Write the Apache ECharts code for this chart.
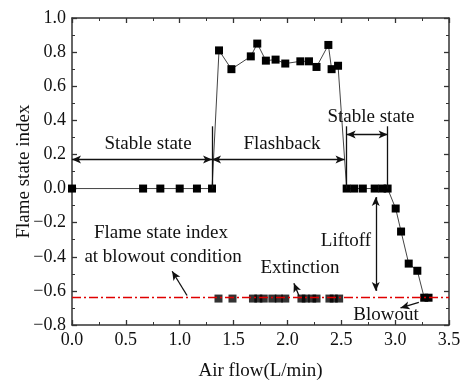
<!DOCTYPE html>
<html><head><meta charset="utf-8">
<script src="https://cdn.jsdelivr.net/npm/echarts@6/dist/echarts.min.js"></script>
<style>html,body{margin:0;padding:0;background:#fff}#c{width:462px;height:382px}</style>
</head><body><div id="c"></div>
<script>
// ---- data ----
const stableX = [0, 0.66, 0.82, 1.00, 1.16, 1.30];
const stableY = [0, 0, 0, 0, 0, 0];
const flashX = [1.365, 1.48, 1.66, 1.72, 1.80, 1.89, 1.98, 2.12, 2.20, 2.27, 2.38, 2.41, 2.47];
const flashY = [0.81, 0.70, 0.775, 0.85, 0.75, 0.756, 0.733, 0.746, 0.746, 0.713, 0.842, 0.70, 0.72];
const stable2X = [2.55, 2.62, 2.70, 2.81, 2.88, 2.93];
const stable2Y = [0, 0, 0, 0, 0, 0];
const liftX = [3.005, 3.055, 3.126, 3.206, 3.27, 3.31];
const liftY = [-0.117, -0.252, -0.44, -0.482, -0.64, -0.64];
const extX = [1.36, 1.49, 1.68, 1.73, 1.78, 1.86, 1.92, 1.98, 2.13, 2.17, 2.23, 2.27, 2.39, 2.43, 2.48];
const extY = [-0.645, -0.645, -0.645, -0.645, -0.645, -0.645, -0.645, -0.645, -0.645, -0.645, -0.645, -0.645, -0.645, -0.645, -0.645];
const blowoutIndex = -0.635;
const xTicks = {min: 0, max: 3.5, interval: 0.5};
const yTicks = {min: -0.8, max: 1.0, interval: 0.2};

const zip = (xs, ys) => xs.map((x, i) => [x, ys[i]]);
const mainData = [].concat(zip(stableX, stableY), zip(flashX, flashY), zip(stable2X, stable2Y), zip(liftX, liftY));
const extData = zip(extX, extY);

const FONT = '"Liberation Serif","Times New Roman",serif';
const fmtY = v => (v < 0 ? '\u2212' + Math.abs(v).toFixed(1) : v.toFixed(1));

function axisCommon(showLabel) {
  return {
    axisLine: {show: true, onZero: false, lineStyle: {color: '#333', width: 1.5}},
    axisTick: {show: true, inside: true, length: 5, lineStyle: {color: '#333', width: 1.3}},
    minorTick: {show: true, splitNumber: 2, length: 3, lineStyle: {color: '#333', width: 1}},
    splitLine: {show: false},
    axisLabel: {show: showLabel, color: '#111', fontFamily: FONT, fontSize: 18, margin: 6}
  };
}

const A = (x1, y1, x2, y2, s1, s2) => [
  {coord: [x1, y1], symbol: s1 ? 'arrow' : 'none', symbolSize: [6, 9]},
  {coord: [x2, y2], symbol: s2 ? 'arrow' : 'none', symbolSize: [6, 9]}
];

const annoLines = [
  A(0, 0.17, 1.30, 0.17, true, true),
  A(1.30, 0.17, 2.53, 0.17, true, true),
  A(1.30, 0, 1.30, 0.365, false, false),
  A(2.55, 0, 2.55, 0.365, false, false),
  A(2.93, 0, 2.93, 0.365, false, false),
  A(2.55, 0.317, 2.93, 0.317, true, true),
  A(2.82, -0.05, 2.82, -0.60, true, true),
  A(2.108, -0.63, 2.06, -0.555, false, true),
  A(3.22, -0.668, 3.05, -0.70, false, true),
  A(1.068, -0.627, 0.93, -0.485, false, true)
];

const chart = echarts.init(document.getElementById('c'), null, {renderer: 'canvas'});
const option = {
  animation: false,
  backgroundColor: '#fff',
  grid: {left: 72, right: 13, top: 18, bottom: 57, containLabel: false, outerBoundsMode: 'none'},
  xAxis: [
    Object.assign({type: 'value', position: 'bottom', min: xTicks.min, max: xTicks.max, interval: xTicks.interval,
      name: 'Air flow(L/min)', nameLocation: 'middle', nameGap: 37, nameMoveOverlap: false,
      nameTextStyle: {fontFamily: FONT, fontSize: 19, color: '#111'}}, axisCommon(true),
      {axisLabel: {show: true, color: '#111', fontFamily: FONT, fontSize: 18, margin: 6, formatter: v => v.toFixed(1)}}),
    Object.assign({type: 'value', position: 'top', min: xTicks.min, max: xTicks.max, interval: xTicks.interval}, axisCommon(false))
  ],
  yAxis: [
    Object.assign({type: 'value', position: 'left', min: yTicks.min, max: yTicks.max, interval: yTicks.interval,
      name: 'Flame state index', nameLocation: 'middle', nameGap: 38, nameMoveOverlap: false,
      nameTextStyle: {fontFamily: FONT, fontSize: 19, color: '#111'}}, axisCommon(true),
      {axisLabel: {show: true, color: '#111', fontFamily: FONT, fontSize: 18, margin: 6, formatter: fmtY}}),
    Object.assign({type: 'value', position: 'right', min: yTicks.min, max: yTicks.max, interval: yTicks.interval}, axisCommon(false))
  ],
  series: [
    {
      type: 'line', xAxisIndex: 0, yAxisIndex: 0, data: mainData,
      symbol: 'rect', symbolSize: 8, showAllSymbol: true,
      itemStyle: {color: '#000'}, lineStyle: {color: '#444', width: 1},
      z: 3
    },
    {
      type: 'scatter', xAxisIndex: 0, yAxisIndex: 0, data: extData,
      symbol: 'rect', symbolSize: 8, itemStyle: {color: '#000'}, z: 3
    },
    {
      type: 'line', xAxisIndex: 0, yAxisIndex: 0, data: [], z: 2,
      markLine: {
        silent: true, animation: false, symbol: ['none', 'none'],
        label: {show: false},
        lineStyle: {color: '#111', width: 1.3, type: 'solid'},
        emphasis: {disabled: true},
        data: annoLines.concat([
          [{coord: [0, blowoutIndex], symbol: 'none', lineStyle: {color: '#e00000', width: 1.3, type: [9, 3, 2, 3]}},
           {coord: [3.5, blowoutIndex], symbol: 'none'}]
        ])
      }
    }
  ]
};
chart.setOption(option);

const texts = [
  ['Stable state', 0.706, 0.264],
  ['Flashback', 1.95, 0.264],
  ['Stable state', 2.776, 0.422],
  ['Liftoff', 2.544, -0.31],
  ['Extinction', 2.117, -0.463],
  ['Blowout', 2.915, -0.739],
  ['Flame state index', 0.826, -0.258],
  ['at blowout condition', 0.845, -0.404]
];
const P = (x, y) => chart.convertToPixel({xAxisIndex: 0, yAxisIndex: 0}, [x, y]);
chart.setOption({
  graphic: texts.map(t => {
    const p = P(t[1], t[2]);
    return {type: 'text', x: p[0], y: p[1], z: 10,
      style: {text: t[0], fill: '#111', font: '19px ' + FONT, textAlign: 'center', textVerticalAlign: 'middle'}};
  })
});
</script></body></html>
